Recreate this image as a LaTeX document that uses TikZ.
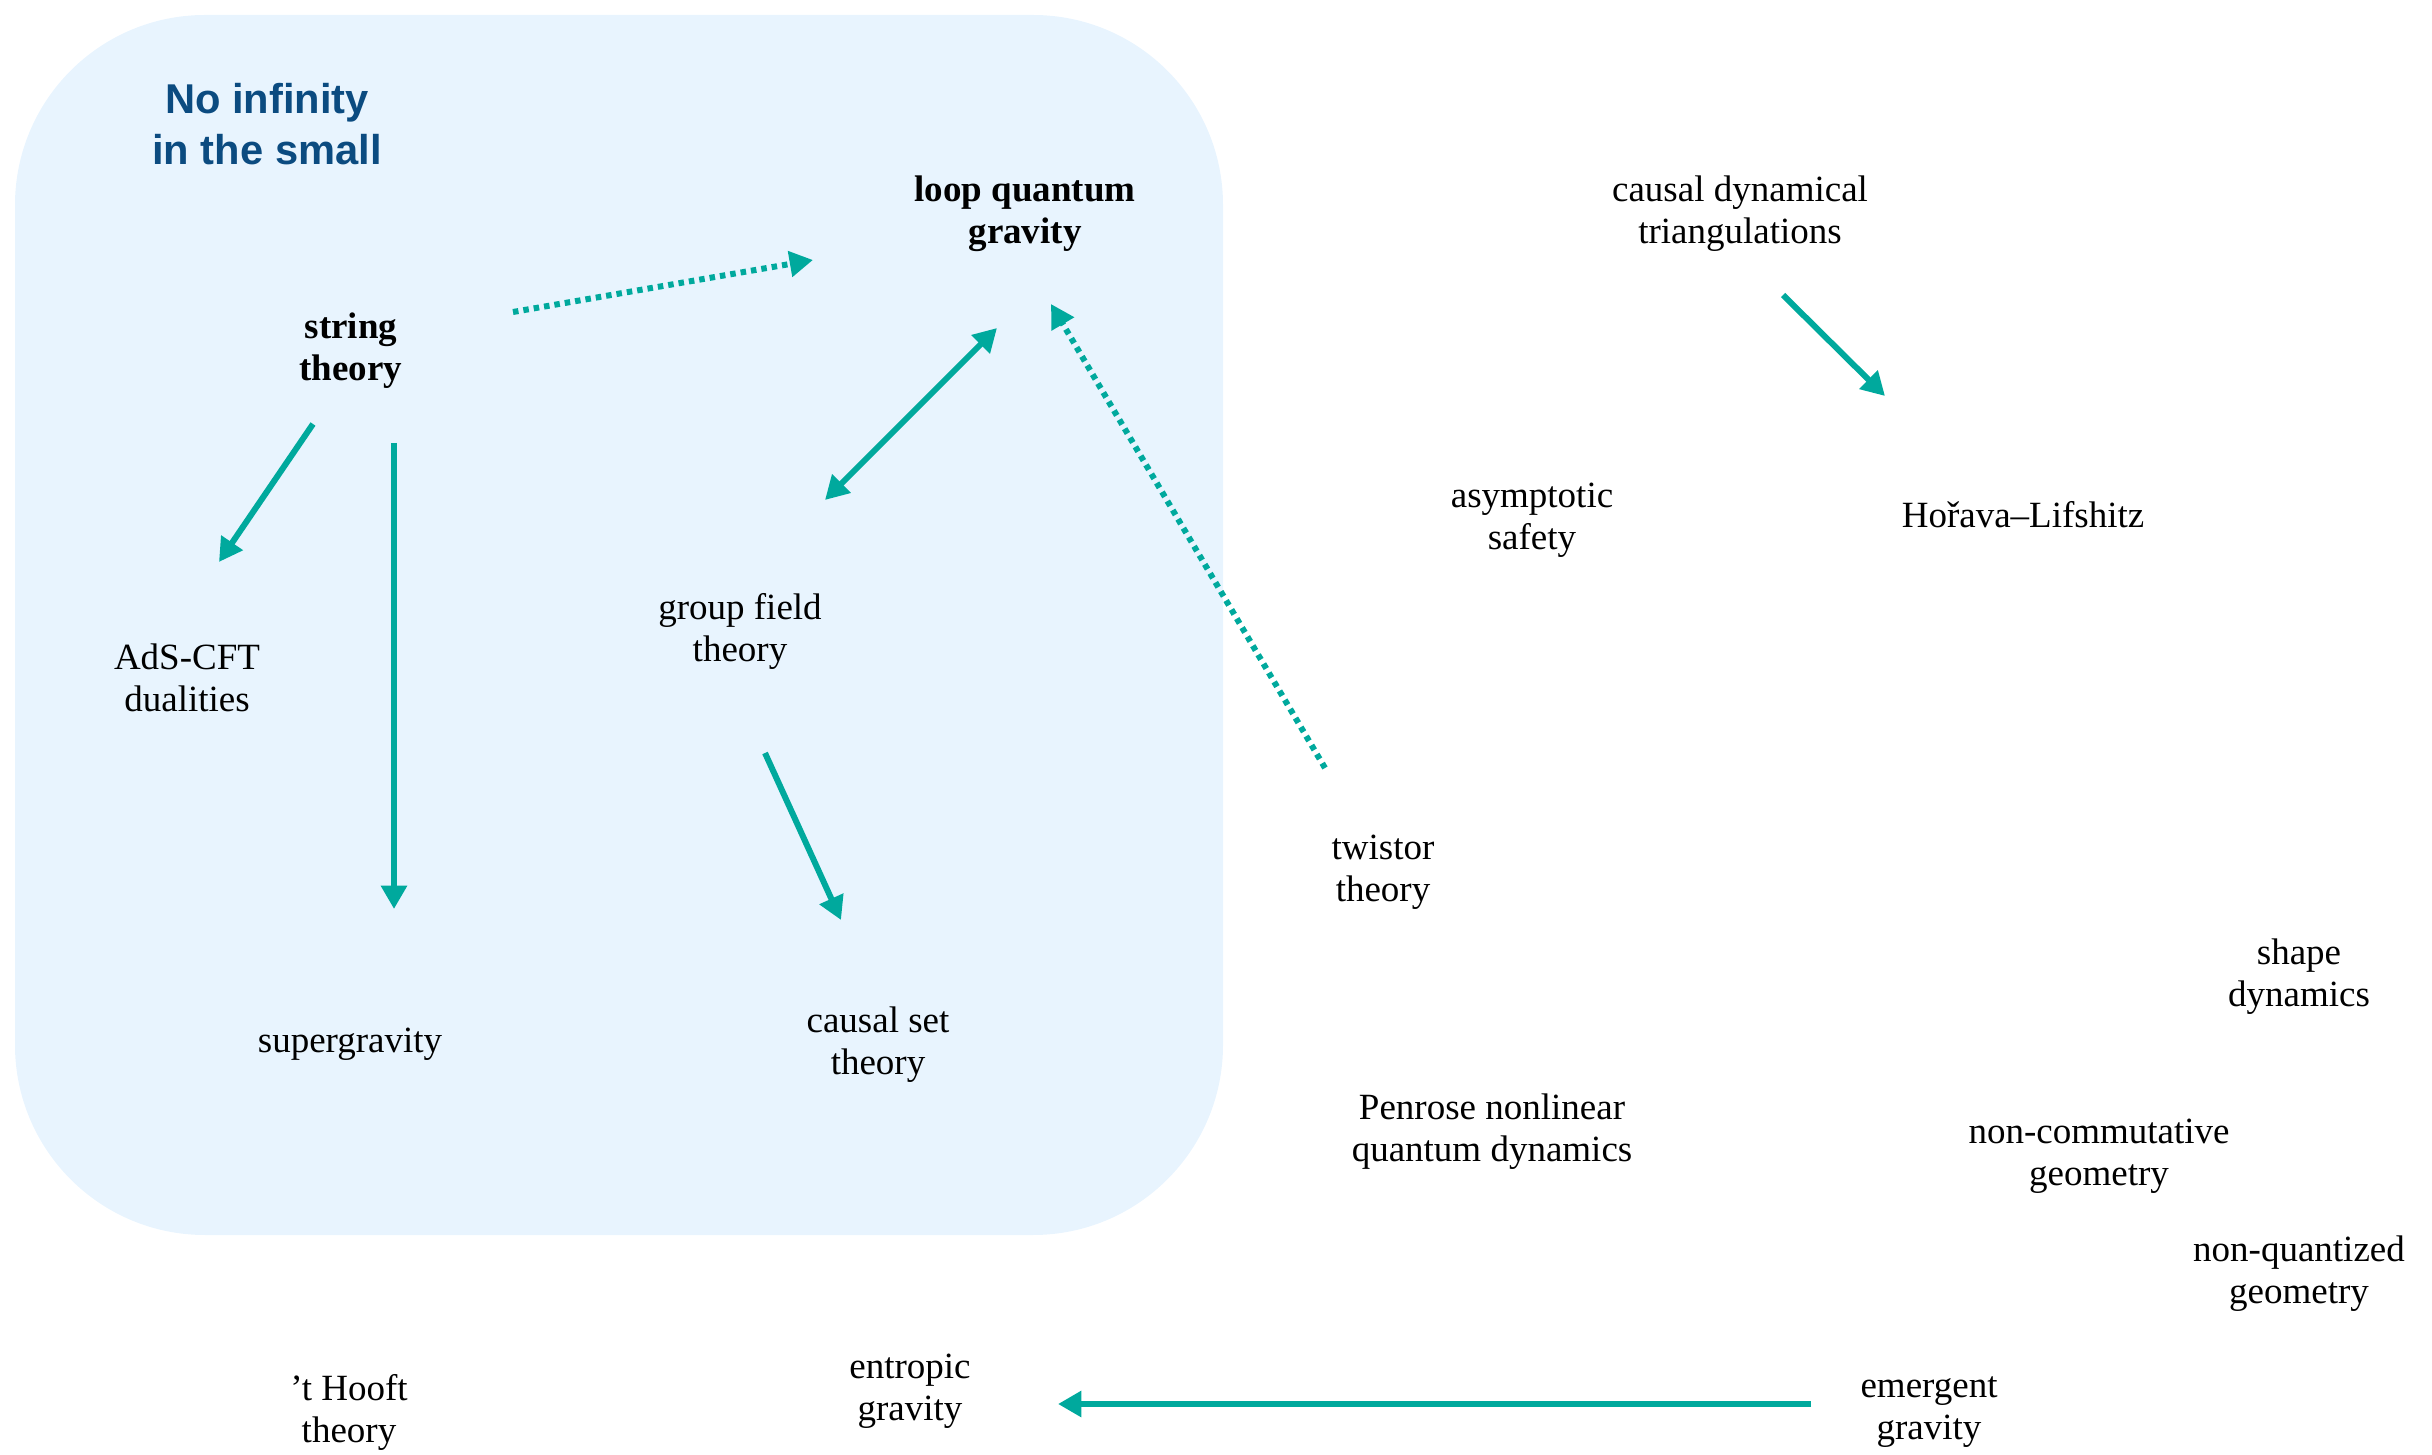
\documentclass[tikz,border=0pt]{standalone}
\usepackage{fontspec}
\setmainfont{Liberation Serif}
\newfontfamily\titlefont{Liberation Sans}
\usetikzlibrary{arrows.meta}

\definecolor{teal}{HTML}{00A99D}
\definecolor{titleblue}{HTML}{0B4B80}
\definecolor{boxfill}{HTML}{E8F4FE}

\tikzset{
  label/.style={align=center, inner sep=0pt, font=\fontsize{11.1}{12.6}\selectfont},
  boldlabel/.style={label, font=\fontsize{11.1}{12.6}\selectfont\bfseries},
  heading/.style={align=center, inner sep=0pt, text=titleblue,
    font=\titlefont\bfseries\fontsize{12.5}{15.3}\selectfont},
  link/.style={draw=teal, line width=1.8pt,
    -{Triangle[length=7pt,width=7.5pt]}},
  twoway/.style={link, {Triangle[length=7pt,width=7.5pt]}-{Triangle[length=7pt,width=7.5pt]}},
  hint/.style={link, line cap=butt, dash pattern=on 1.65pt off 1.5pt},
}

\begin{document}
\begin{tikzpicture}[x=0.3pt, y=-0.3pt]
\useasboundingbox (0,0) rectangle (2432,1455);

% shaded region
\fill[boxfill, rounded corners=57pt] (15,15) rectangle (1223,1235);

\node[heading] (title) at (267,124) {No infinity\\in the small};

% approaches
\node[boldlabel] (lqg)       at (1025,214)  {loop quantum\\gravity};
\node[boldlabel] (string)    at (351,351)   {string\\theory};
\node[label] (cdt)           at (1740,214)  {causal dynamical\\triangulations};
\node[label] (asym)          at (1532,520)  {asymptotic\\safety};
\node[label] (horava)        at (2023,515)  {Hořava–Lifshitz};
\node[label] (gft)           at (740,631)   {group field\\theory};
\node[label] (ads)           at (187,678)   {AdS-CFT\\dualities};
\node[label] (twistor)       at (1383,872)  {twistor\\theory};
\node[label] (shape)         at (2299,977)  {shape\\dynamics};
\node[label] (sugra)         at (350,1044)  {supergravity};
\node[label] (causalset)     at (878,1045)  {causal set\\theory};
\node[label] (penrose)       at (1492,1132) {Penrose nonlinear\\quantum dynamics};
\node[label] (noncomm)       at (2099,1156) {non-commutative\\geometry};
\node[label] (nonquant)      at (2299,1274) {non-quantized\\geometry};
\node[label] (thooft)        at (349,1412)  {’t Hooft\\theory};
\node[label] (entropic)      at (910,1391)  {entropic\\gravity};
\node[label] (emergent)      at (1929,1412) {emergent\\gravity};

% relations
\draw[hint]   ([shift={(162,-39)}]string.center) -- ([shift={(-212,46)}]lqg.center);
\draw[twoway] ([shift={(85,-131)}]gft.center) -- ([shift={(-28,114)}]lqg.center);
\draw[hint]   ([shift={(-58,-104)}]twistor.center) -- ([shift={(26,90)}]lqg.center);
\draw[link]   ([shift={(-38,73)}]string.center) -- ([shift={(32,-116)}]ads.center);
\draw[link]   ([shift={(43,92)}]string.center) -- ([shift={(44,-135)}]sugra.center);
\draw[link]   ([shift={(25,122)}]gft.center) -- ([shift={(-37,-125)}]causalset.center);
\draw[link]   ([shift={(43,81)}]cdt.center) -- ([shift={(-138,-119)}]horava.center);
\draw[link]   ([shift={(-118,-8)}]emergent.center) -- ([shift={(148,13)}]entropic.center);
\end{tikzpicture}
\end{document}
